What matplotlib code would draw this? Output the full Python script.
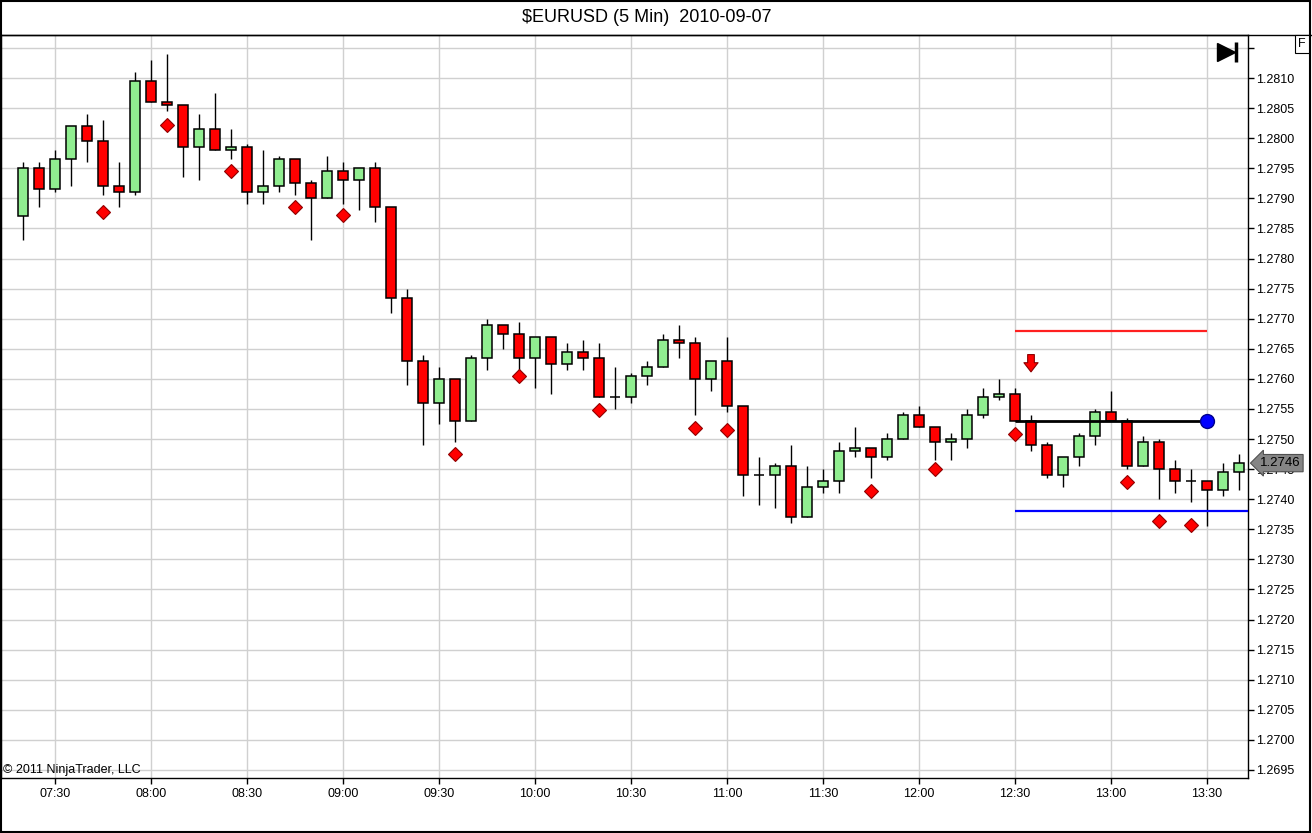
import numpy as np
import matplotlib.pyplot as plt
from matplotlib.patches import Rectangle
from matplotlib.lines import Line2D

plt.rcParams['font.family'] = ['Liberation Sans', 'DejaVu Sans']

# 5 minute bars, 07:20 .. 13:40
opens = [1.27870, 1.27950, 1.27915, 1.27965, 1.28020, 1.27995, 1.27920, 1.27910, 1.28095, 1.28060,
         1.28055, 1.27985, 1.28015, 1.27980, 1.27985, 1.27910, 1.27920, 1.27965, 1.27925, 1.27900,
         1.27945, 1.27930, 1.27950, 1.27885, 1.27735, 1.27630, 1.27560, 1.27600, 1.27530, 1.27635,
         1.27690, 1.27675, 1.27635, 1.27670, 1.27625, 1.27645, 1.27635, 1.27570, 1.27570, 1.27605,
         1.27620, 1.27665, 1.27660, 1.27600, 1.27630, 1.27555, 1.27440, 1.27440, 1.27455, 1.27370,
         1.27420, 1.27430, 1.27480, 1.27485, 1.27470, 1.27500, 1.27540, 1.27520, 1.27495, 1.27500,
         1.27540, 1.27570, 1.27575, 1.27530, 1.27490, 1.27440, 1.27470, 1.27505, 1.27545, 1.27530,
         1.27455, 1.27495, 1.27450, 1.27430, 1.27430, 1.27415, 1.27445]
highs = [1.27960, 1.27960, 1.27980, 1.28020, 1.28040, 1.28030, 1.27960, 1.28110, 1.28130, 1.28140,
         1.28055, 1.28040, 1.28075, 1.28015, 1.27990, 1.27980, 1.27970, 1.27965, 1.27930, 1.27970,
         1.27960, 1.27950, 1.27960, 1.27885, 1.27750, 1.27640, 1.27620, 1.27600, 1.27640, 1.27700,
         1.27690, 1.27695, 1.27670, 1.27670, 1.27660, 1.27665, 1.27660, 1.27620, 1.27610, 1.27630,
         1.27675, 1.27690, 1.27670, 1.27630, 1.27670, 1.27555, 1.27470, 1.27460, 1.27490, 1.27455,
         1.27450, 1.27495, 1.27520, 1.27485, 1.27510, 1.27545, 1.27555, 1.27520, 1.27510, 1.27550,
         1.27585, 1.27600, 1.27585, 1.27540, 1.27495, 1.27470, 1.27510, 1.27550, 1.27580, 1.27535,
         1.27505, 1.27500, 1.27465, 1.27450, 1.27430, 1.27460, 1.27475]
lows = [1.27830, 1.27885, 1.27910, 1.27920, 1.27960, 1.27905, 1.27885, 1.27905, 1.28060, 1.28045,
        1.27935, 1.27930, 1.27980, 1.27965, 1.27890, 1.27890, 1.27910, 1.27905, 1.27830, 1.27900,
        1.27890, 1.27880, 1.27860, 1.27710, 1.27590, 1.27490, 1.27525, 1.27495, 1.27530, 1.27615,
        1.27650, 1.27615, 1.27585, 1.27575, 1.27615, 1.27615, 1.27570, 1.27550, 1.27560, 1.27590,
        1.27620, 1.27635, 1.27540, 1.27580, 1.27545, 1.27405, 1.27390, 1.27385, 1.27360, 1.27370,
        1.27410, 1.27410, 1.27470, 1.27435, 1.27465, 1.27500, 1.27520, 1.27465, 1.27465, 1.27485,
        1.27535, 1.27565, 1.27530, 1.27480, 1.27435, 1.27420, 1.27455, 1.27490, 1.27530, 1.27450,
        1.27455, 1.27400, 1.27410, 1.27395, 1.27355, 1.27405, 1.27415]
closes = [1.27950, 1.27915, 1.27965, 1.28020, 1.27995, 1.27920, 1.27910, 1.28095, 1.28060, 1.28055,
          1.27985, 1.28015, 1.27980, 1.27985, 1.27910, 1.27920, 1.27965, 1.27925, 1.27900, 1.27945,
          1.27930, 1.27950, 1.27885, 1.27735, 1.27630, 1.27560, 1.27600, 1.27530, 1.27635, 1.27690,
          1.27675, 1.27635, 1.27670, 1.27625, 1.27645, 1.27635, 1.27570, 1.27570, 1.27605, 1.27620,
          1.27665, 1.27660, 1.27600, 1.27630, 1.27555, 1.27440, 1.27440, 1.27455, 1.27370, 1.27420,
          1.27430, 1.27480, 1.27485, 1.27470, 1.27500, 1.27540, 1.27520, 1.27495, 1.27500, 1.27540,
          1.27570, 1.27575, 1.27530, 1.27490, 1.27440, 1.27470, 1.27505, 1.27545, 1.27530, 1.27455,
          1.27495, 1.27450, 1.27430, 1.27430, 1.27415, 1.27445, 1.27460]

# red diamond signals under the bars
signal_bars = [5, 9, 13, 17, 20, 27, 31, 36, 42, 44, 53, 57, 62, 69, 71, 73]
signal_prices = [1.27877, 1.28022, 1.27945, 1.27885, 1.27872, 1.27475, 1.27605, 1.27548,
                 1.27518, 1.27515, 1.27414, 1.27450, 1.27508, 1.27429, 1.27364, 1.27357]

# trade levels
trade_start, trade_end = 62, 74
stop_price = 1.2768
entry_price = 1.2753
target_price = 1.2738
arrow_bar = 63
arrow_top, arrow_bottom = 1.27645, 1.27607
last_price = 1.2746

tick_bars = [2, 8, 14, 20, 26, 32, 38, 44, 50, 56, 62, 68, 74]
tick_labels = ['07:30', '08:00', '08:30', '09:00', '09:30', '10:00', '10:30',
               '11:00', '11:30', '12:00', '12:30', '13:00', '13:30']
price_ticks = np.round(np.arange(1.2695, 1.28151, 0.0005), 4)

o = np.array(opens)
h = np.array(highs)
l = np.array(lows)
c = np.array(closes)
idx = np.arange(len(o))

fig = plt.figure(figsize=(13.12, 8.33), dpi=100)
ax = fig.add_axes([1 / 1312, 1 - 778 / 833, 1247 / 1312, 743 / 833])

ax.set_xlim(-1.375, 76.5625)
ax.set_ylim(1.269367, 1.281715)

# grid
ax.set_yticks(price_ticks)
ax.set_yticklabels([f'{p:.4f}' for p in price_ticks[:-1]] + [''])
ax.set_xticks(tick_bars)
ax.set_xticklabels(tick_labels)
ax.grid(True, color='#d0d0d0', linewidth=1)
ax.set_axisbelow(True)
ax.yaxis.tick_right()
ax.tick_params(axis='both', direction='out', length=4, width=1, colors='black', labelsize=9)
ax.tick_params(axis='y', pad=2)
ax.tick_params(axis='x', pad=3)

# candles
ax.vlines(idx, l, h, color='black', linewidth=1.0, zorder=2)
up = c >= o
body_lo = np.minimum(o, c)
body_h = np.abs(c - o)
ax.bar(idx[up], body_h[up], bottom=body_lo[up], width=0.62, color='#90ee90',
       edgecolor='black', linewidth=1.1, zorder=3)
ax.bar(idx[~up], body_h[~up], bottom=body_lo[~up], width=0.62, color='#ff0000',
       edgecolor='black', linewidth=1.1, zorder=3)

# signals
ax.plot(signal_bars, signal_prices, linestyle='none', marker='D', markersize=7.5,
        color='#ff0000', markeredgecolor='#900000', markeredgewidth=0.8, zorder=4)

# trade lines
ax.hlines(stop_price, trade_start, trade_end, color='#ff2020', linewidth=1.6, zorder=4)
ax.hlines(entry_price, trade_start, trade_end, color='black', linewidth=2, zorder=4)
ax.hlines(target_price, trade_start, ax.get_xlim()[1], color='#0000ff', linewidth=1.6, zorder=4)
ax.plot([trade_end], [entry_price], marker='o', markersize=10, color='#0000ff',
        markeredgecolor='#00008b', zorder=5)
ax.annotate('', xy=(arrow_bar, arrow_bottom), xytext=(arrow_bar, arrow_top),
            arrowprops=dict(arrowstyle='simple,head_width=0.85,head_length=0.55,tail_width=0.4',
                            mutation_scale=12, fc='#ff0000', ec='#8b0000', lw=0.8), zorder=5)

# last price tag
ax.text(1.0095, last_price, f'{last_price:.4f}', transform=ax.get_yaxis_transform(),
        ha='left', va='center', fontsize=9.5, color='black', zorder=6, clip_on=False,
        bbox=dict(boxstyle='larrow,pad=0.2', fc='#858585', ec='#505050', lw=0.8))

for s in ax.spines.values():
    s.set_color('black')
    s.set_linewidth(1)

ax.text(0.002, 0.003, '\u00a9 2011 NinjaTrader, LLC', transform=ax.transAxes,
        ha='left', va='bottom', fontsize=9, color='black')

# play-to-end icon
ax.plot([0.9825], [0.9765], transform=ax.transAxes, marker='>', markersize=13,
        color='black', clip_on=False, zorder=6)
ax.plot([0.9905], [0.9765], transform=ax.transAxes, marker='|', markersize=15,
        markeredgewidth=2.5, color='black', clip_on=False, zorder=6)

# title and frame
fig.text(0.493, 1 - 17 / 833, '$EURUSD (5 Min)  2010-09-07', ha='center', va='center',
         fontsize=13)
fig.text(1302 / 1312, 1 - 44 / 833, 'F', ha='center', va='center', fontsize=9,
         bbox=dict(boxstyle='square,pad=0.25', fc='white', ec='black', lw=0.8))
fig.add_artist(Line2D([0, 1], [1 - 35 / 833, 1 - 35 / 833], color='black', linewidth=1))
fig.add_artist(Rectangle((0.0005, 0.001), 0.998, 0.998, transform=fig.transFigure,
                         fill=False, edgecolor='black', linewidth=1.5))

fig.savefig('out.png', dpi=100)
